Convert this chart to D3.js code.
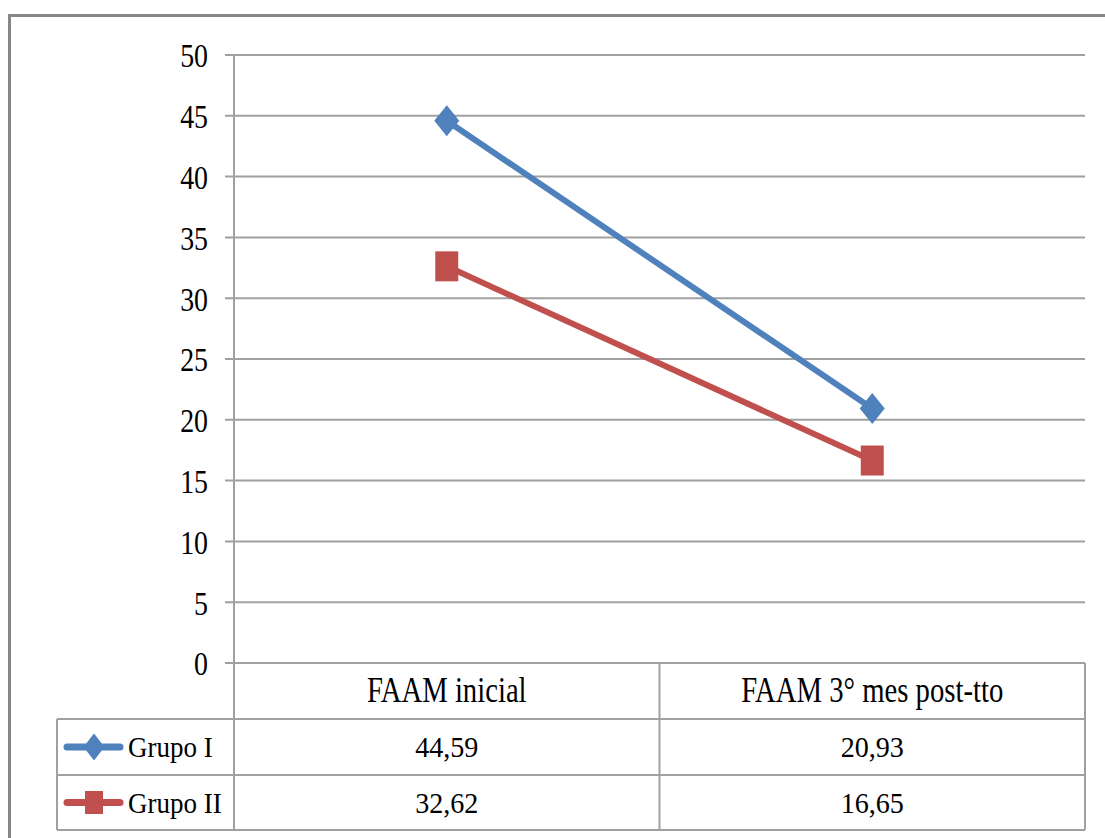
<!DOCTYPE html>
<html>
<head>
<meta charset="utf-8">
<script src="https://cdn.jsdelivr.net/npm/d3@7"></script>
<style>
  body { margin: 0; background: #fff; }
  svg text { font-family: "Liberation Serif", Tinos, "Times New Roman", Times, "DejaVu Serif", serif !important; }
</style>
</head>
<body>
<svg id="chart" width="1105" height="838"></svg>
<script>
// data
var categories = ["FAAM inicial", "FAAM 3° mes post-tto"];
var seriesNames = ["Grupo I", "Grupo II"];
var grupoI = [44.59, 20.93];
var grupoII = [32.62, 16.65];
var yTicks = [0, 5, 10, 15, 20, 25, 30, 35, 40, 45, 50];

var colors = ["#4f81bd", "#c0504d"];
var series = [
  { name: seriesNames[0], values: grupoI, color: colors[0], marker: "diamond" },
  { name: seriesNames[1], values: grupoII, color: colors[1], marker: "square" }
];

var svg = d3.select("#chart");
var grid = "#a0a0a0";

var plot = { left: 234, right: 1085, top: 55, bottom: 663 };
var rows = [663, 719, 775, 830];
var tableLeft = 57;

var x = d3.scaleBand().domain(categories).range([plot.left, plot.right]);
var y = d3.scaleLinear().domain([0, 50]).range([plot.bottom, plot.top]);

var locale = d3.formatLocale({ decimal: ",", thousands: ".", grouping: [3], currency: ["", ""] });
var fmt = locale.format(".2f");

// outer frame
svg.append("path")
  .attr("d", "M9.5,840 V15.5 H1110")
  .attr("fill", "none")
  .attr("stroke", "#878787")
  .attr("stroke-width", 3);

// gridlines
svg.append("g").selectAll("line")
  .data(yTicks)
  .enter().append("line")
  .attr("x1", plot.left - 9).attr("x2", plot.right)
  .attr("y1", function(d) { return y(d); })
  .attr("y2", function(d) { return y(d); })
  .attr("stroke", grid).attr("stroke-width", 2);

// y axis
var yAxis = svg.append("g")
  .attr("transform", "translate(" + plot.left + ",0)")
  .call(d3.axisLeft(y).tickValues(yTicks).tickSize(0).tickPadding(0));
yAxis.attr("font-family", null);
yAxis.select(".domain").remove();
yAxis.selectAll("text")
  .attr("x", 0).attr("dy", "0.35em")
  .attr("transform", "translate(-26,0) scale(0.82,1)")
  .attr("font-size", 34)
  .attr("fill", "#000");

svg.append("line")
  .attr("x1", plot.left).attr("x2", plot.left)
  .attr("y1", plot.top).attr("y2", rows[3])
  .attr("stroke", grid).attr("stroke-width", 2);

// data table lines
var tbl = svg.append("g").attr("stroke", grid).attr("stroke-width", 2);
tbl.append("line").attr("x1", plot.right).attr("x2", plot.right).attr("y1", rows[0]).attr("y2", rows[3]);
tbl.append("line").attr("x1", x(categories[1])).attr("x2", x(categories[1])).attr("y1", rows[0]).attr("y2", rows[3]);
tbl.append("line").attr("x1", tableLeft).attr("x2", tableLeft).attr("y1", rows[1]).attr("y2", rows[3]);
[1, 2, 3].forEach(function(i) {
  tbl.append("line").attr("x1", tableLeft).attr("x2", plot.right).attr("y1", rows[i]).attr("y2", rows[i]);
});

// category header
svg.append("g").selectAll("text")
  .data(categories)
  .enter().append("text")
  .attr("transform", function(d) { return "translate(" + (x(d) + x.bandwidth() / 2) + "," + (rows[0] + 39) + ") scale(0.82,1)"; })
  .attr("text-anchor", "middle")
  .attr("font-size", 35)
  .text(function(d) { return d; });

function markerPath(type, w, h) {
  if (type === "diamond") {
    return "M0," + (-h / 2) + " L" + (w / 2) + ",0 L0," + (h / 2) + " L" + (-w / 2) + ",0 Z";
  }
  return "M" + (-w / 2) + "," + (-h / 2) + " h" + w + " v" + h + " h" + (-w) + " Z";
}

var line = d3.line()
  .x(function(d, i) { return x(categories[i]) + x.bandwidth() / 2; })
  .y(function(d) { return y(d); });

series.forEach(function(s, k) {
  svg.append("path")
    .attr("d", line(s.values))
    .attr("fill", "none")
    .attr("stroke", s.color)
    .attr("stroke-width", 6);

  svg.append("g").selectAll("path")
    .data(s.values)
    .enter().append("path")
    .attr("d", s.marker === "diamond" ? markerPath("diamond", 25, 31) : markerPath("square", 23, 30))
    .attr("transform", function(d, i) { return "translate(" + (x(categories[i]) + x.bandwidth() / 2) + "," + y(d) + ")"; })
    .attr("fill", s.color);

  // table row
  var rowMid = (rows[k + 1] + rows[k + 2]) / 2;
  svg.append("line")
    .attr("x1", 67).attr("x2", 120)
    .attr("y1", rowMid).attr("y2", rowMid)
    .attr("stroke", s.color).attr("stroke-width", 7)
    .attr("stroke-linecap", "round");
  svg.append("path")
    .attr("d", s.marker === "diamond" ? markerPath("diamond", 21, 27) : markerPath("square", 18, 23))
    .attr("transform", "translate(94," + rowMid + ")")
    .attr("fill", s.color);
  svg.append("text")
    .attr("transform", "translate(128," + (rowMid + 10) + ") scale(0.9,1)")
    .attr("font-size", 30)
    .text(s.name);

  svg.append("g").selectAll("text")
    .data(s.values)
    .enter().append("text")
    .attr("transform", function(d, i) { return "translate(" + (x(categories[i]) + x.bandwidth() / 2) + "," + (rowMid + 10) + ") scale(0.97,1)"; })
    .attr("text-anchor", "middle")
    .attr("font-size", 29)
    .text(function(d) { return fmt(d); });
});
</script>
</body>
</html>
